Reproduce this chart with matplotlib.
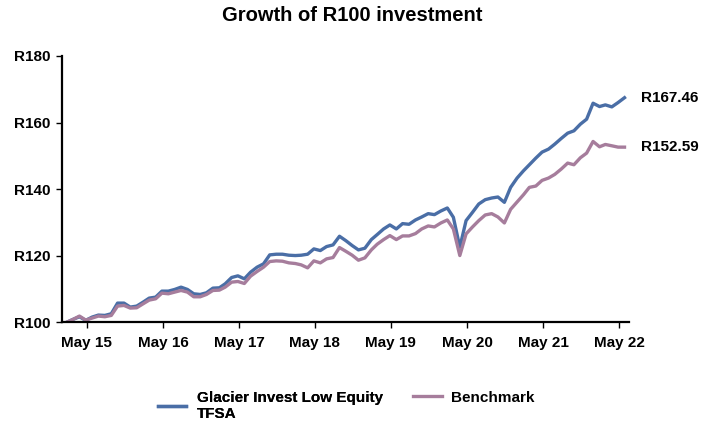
import matplotlib.pyplot as plt
import pandas as pd

plt.rcParams['font.family'] = ['Liberation Sans', 'DejaVu Sans']

# monthly values, Jan 2015 - May 2022
dates = pd.date_range('2015-01-31', periods=89, freq='ME')
fund = [100, 100.8, 101.6, 100.5, 101.5, 102.1, 102, 102.5, 105.7, 105.7,
        104.5, 104.8, 106, 107.2, 107.5, 109.3, 109.3, 109.8, 110.5, 109.8,
        108.5, 108.3, 108.8, 110.2, 110.3, 111.5, 113.4, 113.9, 113, 115,
        116.5, 117.5, 120.2, 120.4, 120.4, 120.1, 120, 120.1, 120.4, 122,
        121.5, 122.7, 123.2, 125.8, 124.5, 123, 121.7, 122.2, 124.8, 126.3,
        128, 129.2, 128, 129.6, 129.4, 130.7, 131.6, 132.6, 132.3, 133.4,
        134.3, 131.5, 122.5, 130.5, 133, 135.5, 136.8, 137.3, 137.6, 136,
        140.5, 143.3, 145.5, 147.3, 149.3, 151.1, 152, 153.5, 155.2, 156.8,
        157.5, 159.5, 161, 165.8, 164.8, 165.3, 164.7, 166, 167.46]
bench = [100, 100.8, 101.8, 100.6, 101.2, 101.8, 101.6, 102, 104.8, 105,
         104.2, 104.3, 105.5, 106.6, 107, 108.7, 108.5, 109, 109.5, 109,
         107.6, 107.6, 108.3, 109.5, 109.6, 110.5, 112, 112.2, 111.6, 113.8,
         115.2, 116.5, 118.2, 118.4, 118.3, 117.8, 117.6, 117.2, 116.3, 118.4,
         117.8, 119, 119.4, 122.4, 121.3, 120.1, 118.6, 119.3, 121.7, 123.4,
         124.8, 126, 124.8, 125.9, 125.9, 126.6, 128, 128.9, 128.6, 129.8,
         130.7, 128, 120, 126.5, 128.6, 130.5, 132.2, 132.6, 131.6, 129.8,
         133.9, 136.1, 138.3, 140.5, 140.9, 142.6, 143.3, 144.4, 146, 147.8,
         147.3, 149.4, 150.8, 154.3, 152.7, 153.4, 153, 152.6, 152.59]
names = ['Glacier Invest Low Equity\nTFSA', 'Benchmark']
colors = ['#4a6ea6', '#a67d9c']

tick_dates = [pd.Timestamp(f'20{y}-05-05') for y in range(15, 23)]
tick_labels = [f'May {y}' for y in range(15, 23)]
yticks = [100, 120, 140, 160, 180]

fig = plt.figure(figsize=(7.04, 4.21), dpi=100)
ax = fig.add_axes([0.088, 0.235, 0.805, 0.632])

l1, = ax.plot(dates, fund, color=colors[0], lw=2.4)
l2, = ax.plot(dates, bench, color=colors[1], lw=2.4)

ax.set_ylim(100, 180)
ax.set_yticks(yticks)
ax.set_yticklabels([f'R{v}' for v in yticks], fontweight='bold', fontsize=11)
ax.set_xlim(pd.Timestamp('2015-01-06'), pd.Timestamp('2022-06-20'))
ax.set_xticks(tick_dates)
ax.set_xticklabels(tick_labels, fontweight='bold', fontsize=11)
ax.tick_params(length=4, width=1, pad=4)
ax.tick_params(axis='x', pad=6)

for s in ['top', 'right']:
    ax.spines[s].set_visible(False)
for s in ['left', 'bottom']:
    ax.spines[s].set_linewidth(1.6)

for vals in (fund, bench):
    ax.annotate(f'R{vals[-1]:.2f}', (dates[-1], vals[-1]), xytext=(12, 0),
                textcoords='offset points', va='center', fontweight='bold', fontsize=11)

fig.suptitle('Growth of R100 investment', fontweight='bold', fontsize=14.5, y=0.985)

# two legends, top aligned like the original
leg_kw = dict(loc='upper left', frameon=False, borderpad=0, borderaxespad=0,
              prop={'weight': 'bold', 'size': 11})
leg1 = fig.legend([l1], [names[0]], bbox_to_anchor=(158 / 704, 0.072),
                  handlelength=1.8, handletextpad=0.75, **leg_kw)
fig.legend([l2], [names[1]], bbox_to_anchor=(413 / 704, 0.072),
           handlelength=1.9, handletextpad=0.6, **leg_kw)
fig.add_artist(leg1)

plt.savefig('out.png', dpi=100)
